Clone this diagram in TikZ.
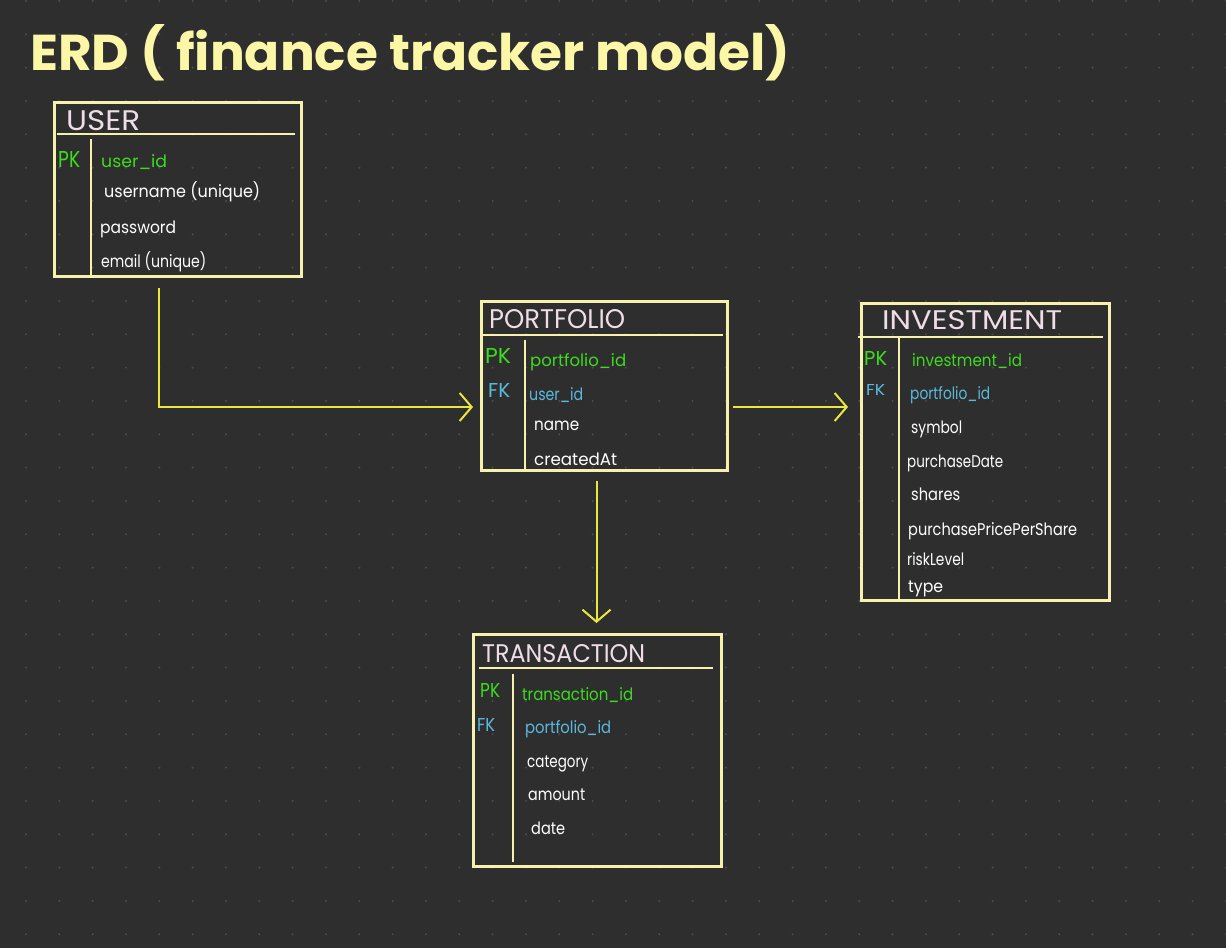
\documentclass[tikz,border=0pt]{standalone}
\usepackage{fontspec}
\setmainfont{Poppins}
\usetikzlibrary{arrows.meta,calc}
\definecolor{bg}{HTML}{2E2E2E}
\definecolor{dotc}{HTML}{4E4E4E}
\definecolor{boxc}{HTML}{F6F2AE}
\definecolor{titlec}{HTML}{FBF7A6}
\definecolor{arrowc}{HTML}{EAE83E}
\definecolor{hdrc}{HTML}{EEDDE8}
\definecolor{pkc}{HTML}{3CDC1E}
\definecolor{fkc}{HTML}{5ABADC}
\newcommand\fitw[2]{\resizebox{#1pt}{\height}{#2}}
\newcommand\capbox[3]{\resizebox{#1pt}{#2pt}{#3}}
\tikzset{
  tbl/.style={draw=boxc, line width=3pt, inner sep=0pt, anchor=north west},
  hline/.style={draw=boxc, line width=2pt},
  vline/.style={draw=boxc, line width=2pt},
  attr/.style={text=white, font=\fontsize{17}{17}\selectfont, inner sep=0pt, anchor=base west},
  pk/.style={attr, text=pkc},
  fk/.style={attr, text=fkc},
  hdr/.style={text=hdrc, font=\fontsize{28}{28}\selectfont, inner sep=0pt, anchor=base west},
  conn/.style={draw=arrowc, line width=2pt, -{Straight Barb[length=12pt,width=28pt,line width=2pt]}},
}
\begin{document}
\begin{tikzpicture}[x=1pt,y=-1pt]
\fill[bg] (0,0) rectangle (1226,948);
\useasboundingbox (0,0) rectangle (1226,948);
\foreach \i in {0,...,36}{\foreach \j in {0,...,28}{\fill[dotc] (26+33.33*\i,1+33.33*\j) circle (1.1);}}

% title
\node[text=titlec, inner sep=0pt, anchor=base west, font=\bfseries\fontsize{40}{40}\selectfont] (title) at (30,70) {\capbox{760}{46}{ERD ( finance tracker model)}};

% USER
\node[tbl, minimum width=247pt, minimum height=174pt] (user) at (53,101) {};
\draw[hline] ($(user.north west)+(4,33)$) -- ($(user.north east)+(-8,33)$);
\draw[vline] ($(user.north west)+(38,38)$) -- ($(user.south west)+(38,0)$);
\node[hdr] (userh) at (66,130) {\capbox{74}{20}{USER}};
\node[pk] (u0) at (58,167) {\capbox{22}{16}{PK}};
\node[pk] (u1) at (101,167) {\fitw{66}{user\_id}};
\node[attr] (u2) at (104,197) {\fitw{156}{username (unique)}};
\node[attr] (u3) at (100,233) {\fitw{76}{password}};
\node[attr] (u4) at (101,267) {\fitw{105}{email (unique)}};

% PORTFOLIO
\node[tbl, minimum width=246pt, minimum height=169pt] (portfolio) at (480,300) {};
\draw[hline] ($(portfolio.north west)+(0,35)$) -- ($(portfolio.north east)+(-6,35)$);
\draw[vline] ($(portfolio.north west)+(45,40)$) -- ($(portfolio.south west)+(45,0)$);
\node[hdr] (porth) at (489,328) {\capbox{136}{19}{PORTFOLIO}};
\node[pk] (p0) at (485,363) {\capbox{26}{15}{PK}};
\node[pk] (p1) at (530,366) {\fitw{96}{portfolio\_id}};
\node[fk] (p2) at (488,397) {\capbox{22}{14}{FK}};
\node[fk] (p3) at (529,400) {\fitw{54}{user\_id}};
\node[attr] (p4) at (534,430) {\fitw{45}{name}};
\node[attr] (p5) at (534,465) {\fitw{83}{createdAt}};

% INVESTMENT
\node[tbl, minimum width=248pt, minimum height=297pt] (investment) at (860,302) {};
\draw[hline] ($(investment.north west)+(-2,35)$) -- ($(investment.north east)+(-8,35)$);
\draw[vline] ($(investment.north west)+(39,35)$) -- ($(investment.south west)+(39,0)$);
\node[hdr] (invh) at (882,329) {\capbox{180}{19}{INVESTMENT}};
\node[pk] (i0) at (864,365) {\capbox{23}{14}{PK}};
\node[pk] (i1) at (912,366) {\fitw{110}{investment\_id}};
\node[fk] (i2) at (866,395) {\capbox{19}{11}{FK}};
\node[fk] (i3) at (910,399) {\fitw{80}{portfolio\_id}};
\node[attr] (i4) at (911,433) {\fitw{51}{symbol}};
\node[attr] (i5) at (907,467) {\fitw{96}{purchaseDate}};
\node[attr] (i6) at (911,500) {\fitw{49}{shares}};
\node[attr] (i7) at (908,535) {\fitw{169}{purchasePricePerShare}};
\node[attr] (i8) at (907,565) {\fitw{57}{riskLevel}};
\node[attr] (i9) at (908,592) {\fitw{35}{type}};

% TRANSACTION
\node[tbl, minimum width=248pt, minimum height=232pt] (transaction) at (472,633) {};
\draw[hline] ($(transaction.north west)+(7,35)$) -- ($(transaction.north east)+(-10,35)$);
\draw[vline] ($(transaction.north west)+(41,41)$) -- ($(transaction.south west)+(41,-6)$);
\node[hdr] (trh) at (482,662) {\capbox{163}{18}{TRANSACTION}};
\node[pk] (t0) at (480,697) {\capbox{20}{14}{PK}};
\node[pk] (t1) at (522,700) {\fitw{111}{transaction\_id}};
\node[fk] (t2) at (477,731) {\capbox{18}{13}{FK}};
\node[fk] (t3) at (525,733) {\fitw{86}{portfolio\_id}};
\node[attr] (t4) at (527,767) {\fitw{61}{category}};
\node[attr] (t5) at (528,800) {\fitw{57}{amount}};
\node[attr] (t6) at (531,834) {\fitw{34}{date}};

% connectors
\coordinate (c1s) at ($(user.south west)+(106,10)$);
\coordinate (c1e) at ($(portfolio.west)+(-7,21)$);
\draw[conn] (c1s) -- (c1s |- c1e) -- (c1e);
\coordinate (c2s) at ($(portfolio.east)+(4,21)$);
\coordinate (c2e) at ($(c2s -| investment.west)+(-12,0)$);
\draw[conn] (c2s) -- (c2e);
\coordinate (c3s) at ($(portfolio.south)+(-8,9)$);
\coordinate (c3e) at ($(c3s |- transaction.north)+(0,-10)$);
\draw[conn] (c3s) -- (c3e);
\end{tikzpicture}
\end{document}
